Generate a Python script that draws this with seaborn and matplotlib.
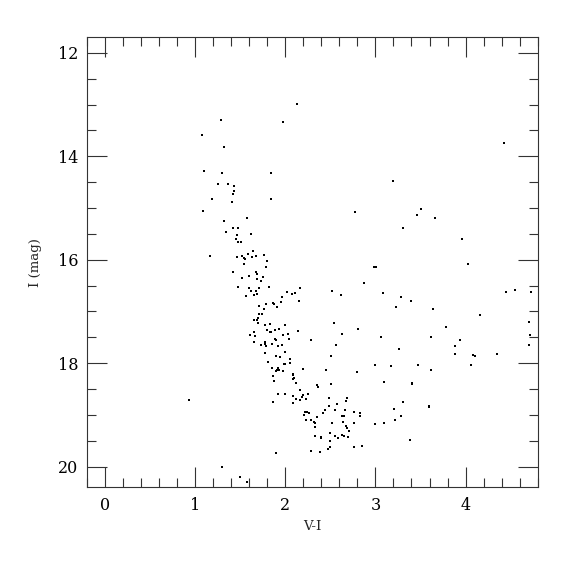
import numpy as np
import pandas as pd
import matplotlib
matplotlib.use("Agg")
import matplotlib.pyplot as plt
import seaborn as sns
from matplotlib.ticker import MultipleLocator

# V-I colour / I magnitude pairs read off the reference CMD
# upper giant branch (bright part)
vi_top = [1.29, 1.08, 1.32, 1.10, 1.30, 1.84, 1.25, 1.36, 1.43, 1.43, 1.42, 1.19, 1.41, 1.84,
          1.09, 1.57, 1.32, 1.42, 1.47, 1.34, 1.46, 1.62, 1.45, 1.48, 1.51, 1.64, 1.59, 1.76,
          1.16, 1.46, 1.52, 1.54, 1.55, 1.63, 1.67, 1.80, 1.54, 1.79, 1.42, 1.67, 1.69, 1.60,
          1.75, 1.52, 1.69, 1.73, 1.48, 1.82, 1.60, 1.71, 1.62, 1.67, 1.65, 1.69, 1.56, 1.79,
          1.86, 1.88, 1.71, 1.91, 1.76, 1.71, 1.74, 1.70, 1.65, 1.69, 1.70, 1.78, 1.83, 1.80,
          1.83, 1.84, 1.89, 1.93, 1.65, 1.61, 1.66, 1.89]
imag_top = [13.30, 13.58, 13.82, 14.29, 14.33, 14.33, 14.53, 14.53, 14.57, 14.68, 14.72, 14.82, 14.88, 14.83,
            15.06, 15.19, 15.26, 15.38, 15.38, 15.47, 15.53, 15.51, 15.59, 15.66, 15.65, 15.84, 15.89, 15.91,
            15.93, 15.94, 15.93, 15.96, 15.98, 15.95, 15.93, 16.02, 16.09, 16.15, 16.24, 16.23, 16.27, 16.31,
            16.34, 16.36, 16.37, 16.42, 16.52, 16.52, 16.55, 16.55, 16.61, 16.60, 16.68, 16.67, 16.71, 16.85,
            16.83, 16.85, 16.89, 16.91, 16.96, 17.04, 17.04, 17.12, 17.17, 17.17, 17.23, 17.26, 17.24, 17.36,
            17.39, 17.40, 17.36, 17.34, 17.40, 17.45, 17.48, 17.53]

# lower branch and clump
vi_mid = [1.95, 2.15, 2.00, 2.14, 1.98, 2.03, 2.04, 2.29, 1.65, 1.77, 1.78, 1.73, 1.79, 1.85,
          1.90, 1.92, 1.96, 1.78, 1.90, 1.94, 2.00, 1.81, 1.99, 2.00, 2.05, 2.05, 1.85, 1.92,
          1.91, 1.93, 1.90, 1.98, 2.20, 2.08, 2.08, 1.86, 2.10, 2.09, 1.88, 2.12, 2.35, 2.36,
          2.16, 1.92, 2.00, 2.08, 2.20, 2.25, 2.18, 2.16, 2.12, 2.23, 1.86, 2.08, 2.49, 2.44,
          2.22, 2.24, 2.26, 2.21, 2.23, 2.42, 2.29, 2.32, 2.33, 2.35, 2.33, 2.33, 2.40, 2.40,
          2.47, 2.28, 2.39, 1.90, 1.30, 1.50, 1.58, 0.93, 2.45, 2.49]
imag_mid = [16.81, 16.79, 17.26, 17.38, 17.45, 17.44, 17.53, 17.55, 17.59, 17.59, 17.63, 17.65, 17.66, 17.62,
            17.56, 17.67, 17.65, 17.80, 17.86, 17.88, 17.79, 17.98, 18.01, 18.01, 18.00, 17.92, 18.09, 18.09,
            18.13, 18.14, 18.16, 18.15, 18.11, 18.20, 18.22, 18.25, 18.28, 18.31, 18.35, 18.39, 18.43, 18.47,
            18.51, 18.60, 18.60, 18.63, 18.62, 18.59, 18.66, 18.71, 18.69, 18.69, 18.75, 18.77, 18.68, 18.91,
            18.95, 18.94, 18.96, 19.01, 19.10, 18.96, 19.10, 19.14, 19.15, 19.04, 19.23, 19.40, 19.43, 19.44,
            19.66, 19.70, 19.72, 19.74, 20.01, 20.20, 20.30, 18.71, 18.13, 18.82]

# red field stars and the faint red clump
vi_red = [2.13, 1.98, 4.43, 3.19, 2.77, 3.51, 3.46, 3.66, 3.31, 3.96, 4.03, 2.98, 3.01, 1.96,
          2.02, 2.07, 2.11, 2.16, 2.87, 2.52, 2.62, 3.08, 3.28, 3.39, 3.23, 3.64, 4.45, 4.55,
          4.73, 4.16, 2.54, 2.81, 4.70, 3.78, 2.63, 3.06, 3.62, 3.94, 4.72, 3.88, 4.70, 2.56,
          3.26, 2.51, 3.88, 4.08, 4.11, 4.35, 2.99, 3.17, 3.47, 3.62, 4.06, 2.80, 3.10, 3.41,
          3.41, 2.51, 2.68, 2.67, 2.57, 3.31, 3.59, 3.59, 2.55, 2.66, 3.21, 2.76, 2.83, 2.63,
          2.65, 2.83, 3.28, 3.22, 2.52, 2.64, 2.76, 3.00, 3.10, 2.67, 2.69, 2.71, 2.50, 2.63,
          2.65, 2.55, 2.58, 2.70, 3.38, 2.50, 2.50, 2.76, 2.85]
imag_red = [12.99, 13.33, 13.75, 14.47, 15.08, 15.01, 15.13, 15.20, 15.39, 15.60, 16.09, 16.15, 16.15, 16.73,
            16.62, 16.67, 16.64, 16.55, 16.45, 16.61, 16.69, 16.65, 16.73, 16.80, 16.92, 16.95, 16.63, 16.59,
            16.63, 17.06, 17.22, 17.34, 17.21, 17.31, 17.44, 17.49, 17.50, 17.56, 17.45, 17.66, 17.65, 17.65,
            17.72, 17.86, 17.82, 17.84, 17.86, 17.82, 18.04, 18.05, 18.04, 18.14, 18.04, 18.17, 18.36, 18.38,
            18.41, 18.41, 18.67, 18.73, 18.79, 18.76, 18.83, 18.85, 18.91, 18.91, 18.89, 18.95, 18.96, 19.02,
            19.02, 19.03, 19.02, 19.10, 19.16, 19.14, 19.16, 19.18, 19.15, 19.21, 19.25, 19.31, 19.35, 19.39,
            19.40, 19.41, 19.44, 19.42, 19.49, 19.51, 19.63, 19.63, 19.61]

df = pd.DataFrame({
    "vi": vi_top + vi_mid + vi_red,
    "imag": imag_top + imag_mid + imag_red,
})

sns.set_style("ticks")
plt.rcParams["font.family"] = ["DejaVu Serif"]

fig = plt.figure(figsize=(5.75, 5.75), dpi=100)
ax = fig.add_axes([0.1513, 0.1525, 0.7838, 0.7826])

sns.scatterplot(data=df, x="vi", y="imag", marker="s", s=4, color="black",
                linewidth=0, ax=ax, legend=False)

ax.set_xlim(-0.2, 4.8)
ax.set_ylim(20.4, 11.7)
ax.xaxis.set_major_locator(MultipleLocator(1))
ax.xaxis.set_minor_locator(MultipleLocator(0.2))
ax.yaxis.set_major_locator(MultipleLocator(2))
ax.yaxis.set_minor_locator(MultipleLocator(0.5))

ax.tick_params(which="both", direction="in", top=True, right=True,
               color="#333333", width=0.8, labelsize=11.5, labelcolor="black")
ax.tick_params(which="major", length=14.4)
ax.tick_params(which="minor", length=6.8)
ax.tick_params(axis="x", which="major", pad=7)
ax.tick_params(axis="y", which="major", pad=6)
for sp in ax.spines.values():
    sp.set_visible(True)
    sp.set_color("#333333")
    sp.set_linewidth(0.8)

ax.set_xlabel("V-I", fontsize=9.5)
ax.set_ylabel("I (mag)", fontsize=9.5)
ax.xaxis.set_label_coords(0.5, -0.072)
ax.yaxis.set_label_coords(-0.10, 0.5)

fig.savefig("out.png", dpi=100)
plt.close(fig)
